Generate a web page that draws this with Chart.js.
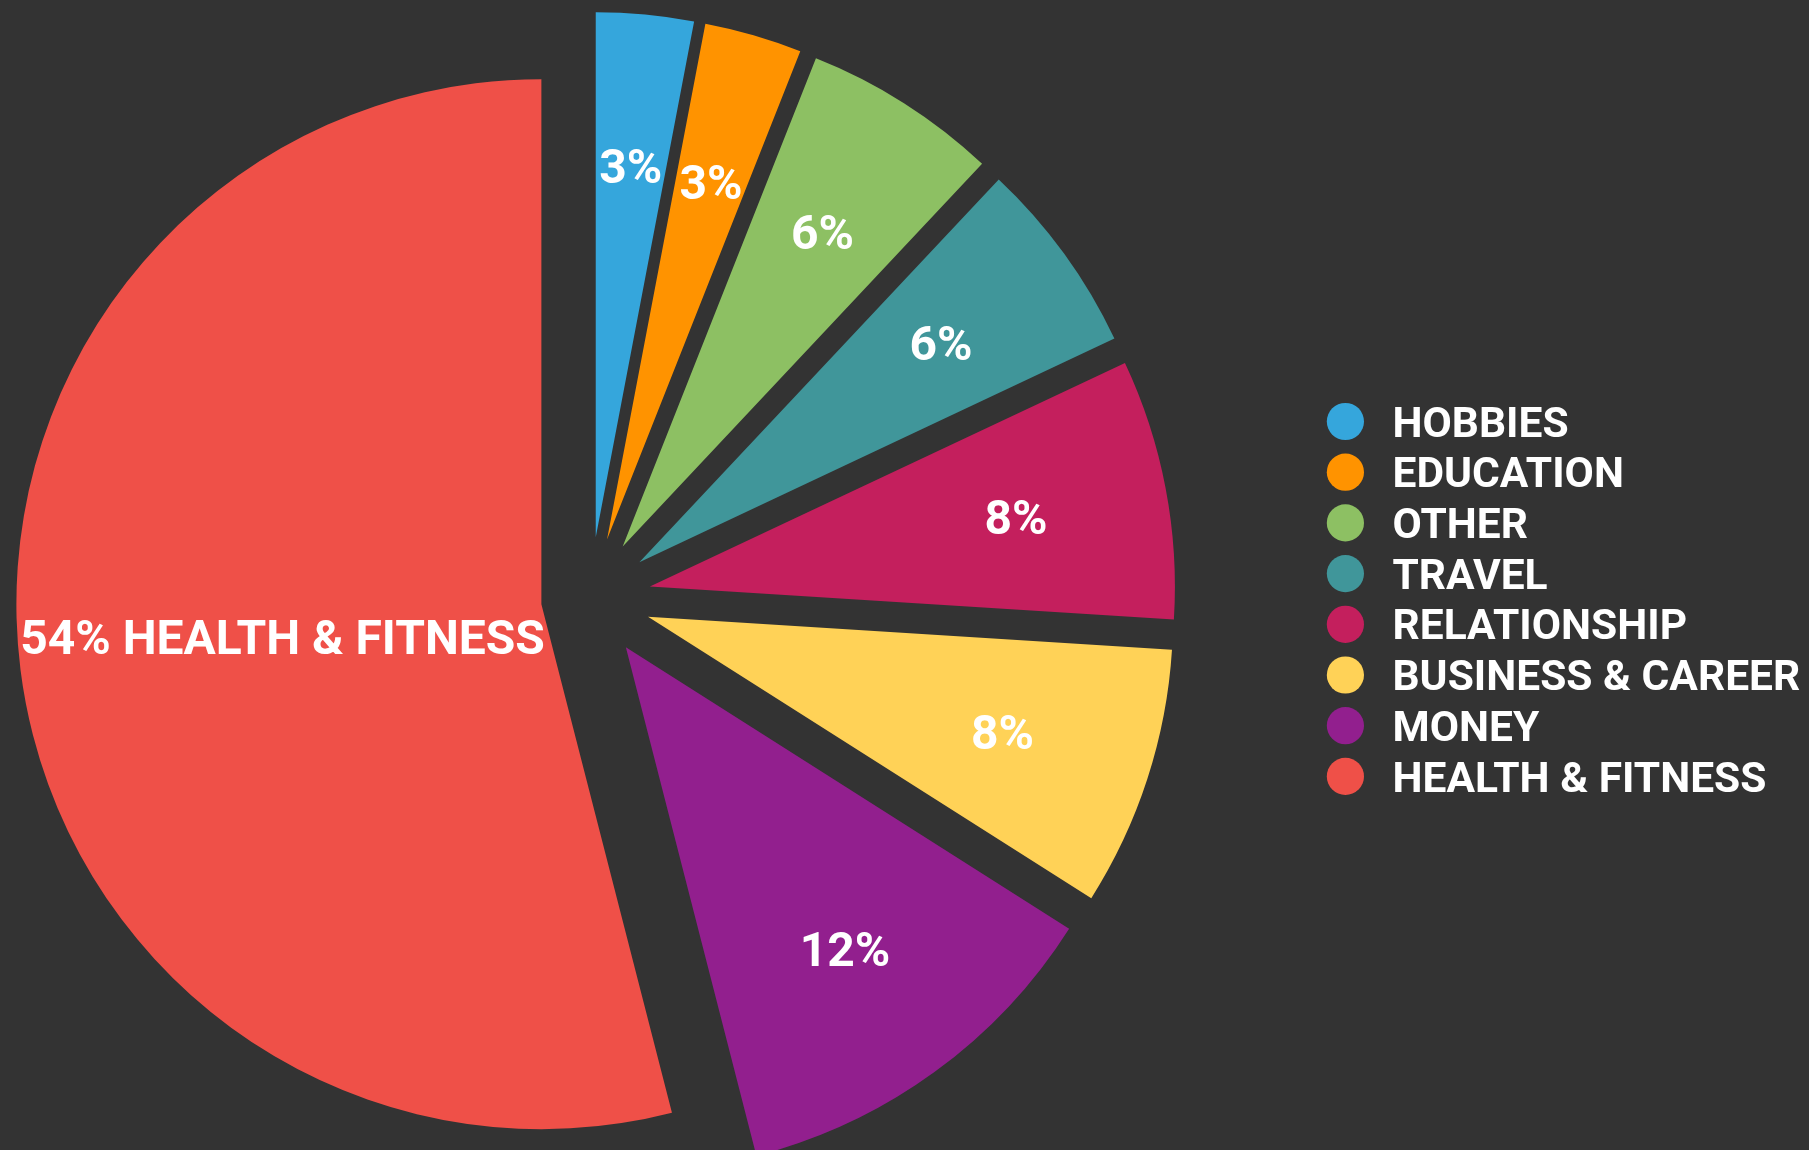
<!DOCTYPE html>
<html>
<head>
<meta charset="utf-8">
<script src="https://cdn.jsdelivr.net/npm/chart.js@4.4.1/dist/chart.umd.min.js"></script>
<style>
  html, body { margin: 0; padding: 0; background: #333333; }
  #wrap { width: 1809px; height: 1150px; position: relative; }
</style>
</head>
<body>
<div id="wrap"><canvas id="grafico"></canvas></div>
<script>
// dados
var categorias = ['HOBBIES', 'EDUCATION', 'OTHER', 'TRAVEL', 'RELATIONSHIP', 'BUSINESS & CAREER', 'MONEY', 'HEALTH & FITNESS'];
var valores = [3, 3, 6, 6, 8, 8, 12, 54];
var rotulos = ['3%', '3%', '6%', '6%', '8%', '8%', '12%', '54% HEALTH & FITNESS'];
var cores = ['#35A6DC', '#FF9300', '#8DC063', '#40969A', '#C41F5D', '#FFD257', '#921F8E', '#EF5048'];

// quanto cada fatia sai do centro (px)
var deslocamento = [61, 61, 61, 61, 61, 61, 61, 49];
var raio = 525;

// o offset do chart.js tambem aumenta o raio, entao move cada fatia direto
var pluginPull = {
  id: 'pull',
  afterDatasetUpdate: function (chart) {
    var meta = chart.getDatasetMeta(0);
    meta.data.forEach(function (arc, i) {
      var meio = (arc.startAngle + arc.endAngle) / 2;
      if (arc.$cx === undefined) { arc.$cx = arc.x; arc.$cy = arc.y; }
      arc.x = arc.$cx + Math.cos(meio) * deslocamento[i];
      arc.y = arc.$cy + Math.sin(meio) * deslocamento[i];
    });
  }
};

var pluginTextos = {
  id: 'textos',
  afterDatasetsDraw: function (chart) {
    var ctx = chart.ctx;
    var meta = chart.getDatasetMeta(0);
    ctx.save();
    ctx.fillStyle = '#ffffff';
    ctx.textAlign = 'center';
    ctx.textBaseline = 'alphabetic';
    meta.data.forEach(function (arc, i) {
      var meio = (arc.startAngle + arc.endAngle) / 2;
      var grande = valores[i] > 50;
      var f = grande ? 0.497 : 0.71;
      var tam = 48;
      var dist = f * arc.outerRadius;
      ctx.font = 'bold ' + tam + 'px Roboto';
      ctx.fillText(rotulos[i], arc.x + Math.cos(meio) * dist, arc.y + Math.sin(meio) * dist + tam * 0.355);
    });
    ctx.restore();
  },
  afterDraw: function (chart) {
    // legenda
    var ctx = chart.ctx;
    ctx.save();
    ctx.textAlign = 'left';
    ctx.textBaseline = 'alphabetic';
    ctx.font = 'bold 42.5px Roboto';
    var x0 = 1345.4, y0 = 421.5, passo = 50.7;
    categorias.forEach(function (c, i) {
      var y = y0 + i * passo;
      ctx.fillStyle = cores[i];
      ctx.beginPath();
      ctx.arc(x0, y, 18.6, 0, Math.PI * 2);
      ctx.fill();
      ctx.fillStyle = '#ffffff';
      ctx.fillText(c, 1392.5, y + 15.1);
    });
    ctx.restore();
  }
};

const grafico = new Chart(document.getElementById('grafico'), {
  type: 'pie',
  data: {
    labels: categorias,
    datasets: [{
      data: valores,
      backgroundColor: cores,
      borderWidth: 0,
      offset: 0,
      hoverOffset: 0
    }]
  },
  options: {
    responsive: true,
    maintainAspectRatio: false,
    animation: false,
    events: [],
    radius: raio,
    layout: { padding: { left: 0, right: 629, top: 46, bottom: 0 } },
    plugins: {
      legend: { display: false },
      tooltip: { enabled: false }
    }
  },
  plugins: [pluginPull, pluginTextos]
});
</script>
</body>
</html>
